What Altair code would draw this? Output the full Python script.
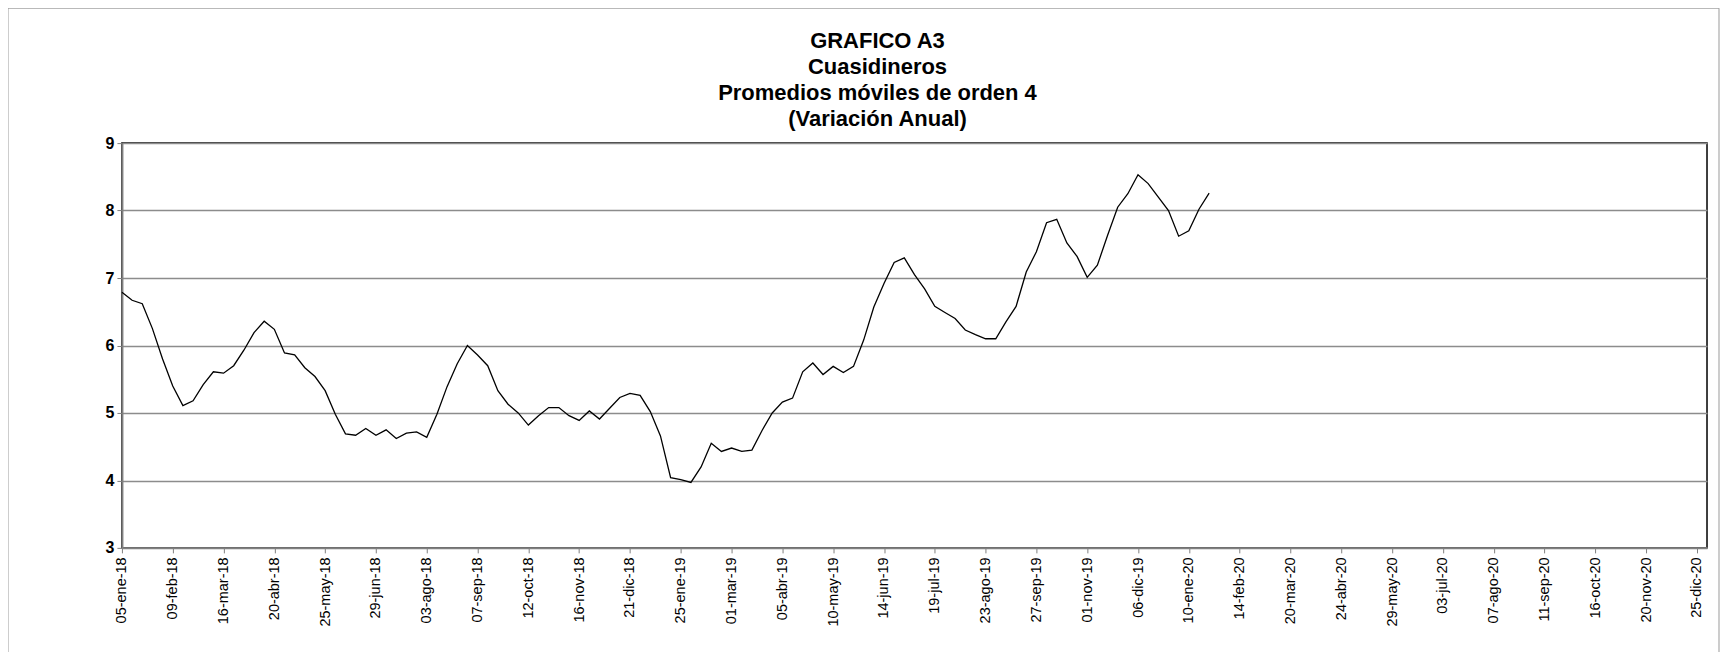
import json
import altair as alt
import pandas as pd

# ---- data -------------------------------------------------------------
START_DATE = "2018-01-05"
VALUES = [
    6.79, 6.67, 6.62, 6.25, 5.80, 5.40, 5.11, 5.18, 5.42, 5.61,
    5.59, 5.70, 5.93, 6.19, 6.36, 6.24, 5.89, 5.86, 5.67, 5.54,
    5.33, 4.98, 4.69, 4.67, 4.77, 4.67, 4.75, 4.62, 4.70, 4.72,
    4.64, 4.98, 5.39, 5.73, 6.00, 5.86, 5.70, 5.33, 5.13, 5.00,
    4.82, 4.96, 5.08, 5.08, 4.96, 4.89, 5.03, 4.91, 5.07, 5.23,
    5.29, 5.26, 5.02, 4.66, 4.04, 4.01, 3.97, 4.20, 4.55, 4.43,
    4.48, 4.43, 4.45, 4.74, 5.00, 5.16, 5.22, 5.61, 5.74, 5.57,
    5.69, 5.60, 5.69, 6.08, 6.57, 6.92, 7.23, 7.30, 7.05, 6.84,
    6.58, 6.49, 6.40, 6.23, 6.16, 6.10, 6.10, 6.35, 6.58, 7.09,
    7.39, 7.82, 7.87, 7.52, 7.32, 7.01, 7.19, 7.63, 8.05, 8.25,
    8.53, 8.40, 8.20, 8.00, 7.62, 7.70, 8.02, 8.26,
]
DATES = pd.date_range(START_DATE, periods=len(VALUES), freq="7D").strftime("%Y-%m-%d").tolist()

X_DOMAIN = ["2018-01-05", "2021-01-01"]
TICK_DATES = pd.date_range("2018-01-05", "2020-12-25", freq="35D").strftime("%Y-%m-%d").tolist()
MONTHS_ES = ["ene", "feb", "mar", "abr", "may", "jun", "jul", "ago", "sep", "oct", "nov", "dic"]
Y_TICKS = [3, 4, 5, 6, 7, 8, 9]

TITLE_LINES = ["GRAFICO A3", "Cuasidineros", "Promedios móviles de orden 4", "(Variación Anual)"]

def ms(d):
    return int(pd.Timestamp(d, tz="UTC").value // 10**6)

df = pd.DataFrame({"fecha": DATES, "valor": VALUES})

FONT = "Liberation Sans"
label_expr = ("utcFormat(datum.value, '%d') + '-' + " + json.dumps(MONTHS_ES)
              + "[utcmonth(datum.value)] + '-' + utcFormat(datum.value, '%y')")

x_enc = alt.X(
    "fecha:T",
    scale=alt.Scale(type="utc", domain=[ms(d) for d in X_DOMAIN], nice=False),
    axis=alt.Axis(
        values=[ms(d) for d in TICK_DATES],
        labelExpr=label_expr,
        labelAngle=270,
        labelFontSize=14.5,
        labelColor="black",
        labelPadding=4,
        tickSize=5,
        grid=False,
        title=None,
        labelOverlap=False,
        labelBound=False,
        labelFlush=False,
    ),
)
y_enc = alt.Y(
    "valor:Q",
    scale=alt.Scale(domain=[3, 9], nice=False, zero=False),
    axis=alt.Axis(
        values=Y_TICKS,
        labelFontSize=16,
        labelFontWeight="bold",
        labelColor="black",
        labelPadding=3,
        tickSize=5,
        grid=True,
        title=None,
    ),
)

line = alt.Chart(df).mark_line(color="black", strokeWidth=1.3).encode(x=x_enc, y=y_enc)

frame = alt.Chart(pd.DataFrame({"a": [0]})).mark_rect(
    fillOpacity=0, stroke="#9a9a9a", strokeWidth=1
).encode(
    x=alt.value(-114), x2=alt.value(1598), y=alt.value(-135), y2=alt.value(515)
)

chart = alt.layer(frame, line).properties(
    width=1586,
    height=405,
    padding={"left": 114, "top": 135, "right": 16, "bottom": 104},
    autosize=alt.AutoSizeParams(type="none"),
    title=alt.Title(
        TITLE_LINES,
        font=FONT,
        fontSize=22,
        fontWeight="bold",
        lineHeight=26,
        color="black",
        anchor="middle",
        dx=-37,
        offset=-123,
    ),
).configure(
    font=FONT,
).configure_view(
    stroke="black", strokeWidth=1.5
).configure_axis(
    domainColor="#808080",
    domainWidth=2,
    gridColor="#8c8c8c",
    gridWidth=1.5,
    tickColor="#808080",
    tickWidth=1,
    labelFont=FONT,
)

chart.save("out.html", embed_options={"renderer": "svg", "actions": False})
